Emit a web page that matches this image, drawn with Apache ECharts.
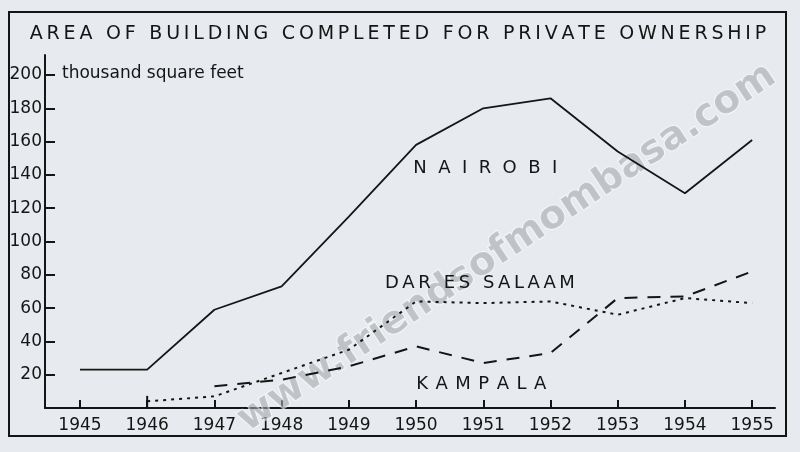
<!DOCTYPE html>
<html>
<head>
<meta charset="utf-8">
<script src="https://cdn.jsdelivr.net/npm/echarts@6/dist/echarts.min.js"></script>
<style>
  html, body { margin: 0; padding: 0; background: #e6eaee; }
  #main { width: 800px; height: 452px; }
</style>
</head>
<body>
<div id="main"></div>
<script>
const years = [1945, 1946, 1947, 1948, 1949, 1950, 1951, 1952, 1953, 1954, 1955]
const yTicks = [20, 40, 60, 80, 100, 120, 140, 160, 180, 200]
// thousand square feet, null = not drawn
const nairobi = [23, 23, 59, 73, 115, 158, 180, 186, 154, 129, 161]
const darEsSalaam = [null, 4, 7, 21, 35, 64, 63, 64, 56, 66, 63]
const kampala = [null, null, 13, 17, 25, 37, 27, 33, 66, 67, 82]

const titleText = 'AREA OF BUILDING COMPLETED FOR PRIVATE OWNERSHIP'
const font = '"DejaVu Sans", sans-serif'
const ink = '#151515'

// hand lettering is widely spaced
const spaced = (s, gap = '\u2009') => s.split('').join(gap)

const toPairs = (vals) => {
  const out = []
  vals.forEach((v, i) => {
    if (v !== null) out.push([years[i], v])
  })
  return out
}

const cityLabel = (name, x, y, extra = []) => ({
  symbol: 'circle',
  symbolSize: 1,
  itemStyle: { color: 'rgba(0,0,0,0)' },
  silent: true,
  label: {
    show: true,
    position: 'inside',
    formatter: name,
    color: ink,
    fontFamily: font,
    fontSize: 18,
  },
  data: [{ coord: [x, y] }, ...extra],
})

// little upright stroke where the Dar es Salaam line begins
const firstDar = toPairs(darEsSalaam)[0]
const darStart = {
  coord: firstDar,
  symbol: 'rect',
  symbolSize: [2, 11],
  itemStyle: { color: ink },
  label: { show: false },
}

const chart = echarts.init(document.getElementById('main'))

const option = {
  backgroundColor: '#e7ebef',
  animation: false,
  title: {
    text: spaced(titleText),
    left: 393,
    top: 20,
    textAlign: 'center',
    textStyle: { fontFamily: font, fontSize: 19, fontWeight: 'normal', color: ink },
  },
  grid: { left: 45, right: 25, top: 55, bottom: 44 },
  xAxis: {
    type: 'value',
    min: 1944.48,
    max: 1955.34,
    splitLine: { show: false },
    axisLine: { lineStyle: { color: ink, width: 2 } },
    axisTick: { inside: true, length: 8, customValues: years, lineStyle: { color: ink, width: 2 } },
    axisLabel: {
      customValues: years,
      margin: 9,
      color: ink,
      fontFamily: font,
      fontSize: 17,
      formatter: (v) => String(v),
    },
  },
  yAxis: {
    type: 'value',
    min: 0,
    max: 212,
    splitLine: { show: false },
    axisLine: { show: true, lineStyle: { color: ink, width: 2 } },
    axisTick: { inside: true, length: 10, customValues: yTicks, lineStyle: { color: ink, width: 2 } },
    axisLabel: { customValues: yTicks, margin: 3, color: ink, fontFamily: font, fontSize: 17 },
  },
  graphic: [
    {
      type: 'rect',
      silent: true,
      shape: { x: 9, y: 12, width: 777, height: 424 },
      style: { fill: null, stroke: ink, lineWidth: 2 },
      z: 0,
    },
    {
      // scan watermark, sits under the lines
      type: 'text',
      silent: true,
      x: 507,
      y: 248,
      rotation: 0.585,
      style: {
        text: 'www.friendsofmombasa.com',
        fontFamily: font,
        fontWeight: 'bold',
        fontSize: 39,
        align: 'center',
        verticalAlign: 'middle',
        fill: 'rgba(165,168,172,0.6)',
        stroke: 'rgba(255,255,255,0.6)',
        lineWidth: 2,
      },
      z: 1,
    },
    {
      type: 'text',
      silent: true,
      left: 62,
      top: 65,
      style: { text: 'thousand square feet', fontFamily: font, fontSize: 17, fill: ink },
    },
  ],
  series: [
    {
      name: 'Nairobi',
      type: 'line',
      z: 5,
      data: toPairs(nairobi),
      symbol: 'none',
      lineStyle: { color: ink, width: 1.8 },
      markPoint: cityLabel('N  A  I  R  O  B  I', 1951.03, 144),
    },
    {
      name: 'Dar es Salaam',
      type: 'line',
      z: 5,
      data: toPairs(darEsSalaam),
      symbol: 'none',
      lineStyle: { color: ink, width: 2, type: [3, 5] },
      markPoint: cityLabel(spaced('DAR ES SALAAM'), 1950.95, 75, [darStart]),
    },
    {
      name: 'Kampala',
      type: 'line',
      z: 5,
      data: toPairs(kampala),
      symbol: 'none',
      lineStyle: { color: ink, width: 2, type: [13, 10] },
      markPoint: cityLabel(spaced('KAMPALA', ' \u200A'), 1950.97, 14.5),
    },
  ],
}

chart.setOption(option)
</script>
</body>
</html>
